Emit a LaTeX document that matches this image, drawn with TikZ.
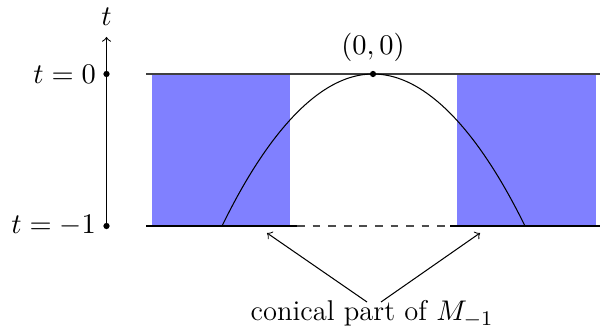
\documentclass[tikz,border=0pt]{standalone}
\begin{document}
\begin{tikzpicture}[x=0.385pt,y=-0.385pt,
  font=\fontsize{11}{13}\selectfont,
  dot/.style={circle,fill=black,inner sep=0pt,minimum size=2.4pt},
  band/.style={fill=blue!50},
  lbl/.style={inner sep=1pt}]
\useasboundingbox (0,0) rectangle (600,330);
\fill[band] (152,74) rectangle (290,226);
\fill[band] (457,74) rectangle (596,226);
\draw[black!75] (146,74) -- (600,74);
\draw[line width=0.8pt] (146,226) -- (297,226);
\draw[dashed,black!70] (297,226) -- (450,226);
\draw[line width=0.8pt] (450,226) -- (600,226);
% axis
\coordinate (a0) at (106.5,228);
\node[lbl] (tl) at (106.5,17) {$t$};
\draw[->] (a0) -- (106.5,37);
\node[dot] (d0) at (106.5,74) {};
\node[dot] (d1) at (106.5,226) {};
\node[lbl,anchor=east] (l0) at (99,74) {$t=0$};
\node[lbl,anchor=east] (l1) at (99,226) {$t=-1$};
% parabola
\node[dot] (o) at (373,74) {};
\node[lbl] (ol) at (373,47) {$(0,0)$};
\draw (222,226) parabola bend (373,74) (525,226);
% label and arrows
\node[lbl] (cl) at (372,314) {conical part of $M_{-1}$};
\coordinate (p1) at (267,233);
\coordinate (p2) at (480,233);
\draw[->] (367,302) -- (p1);
\draw[->] (381,302) -- (p2);
\end{tikzpicture}
\end{document}
